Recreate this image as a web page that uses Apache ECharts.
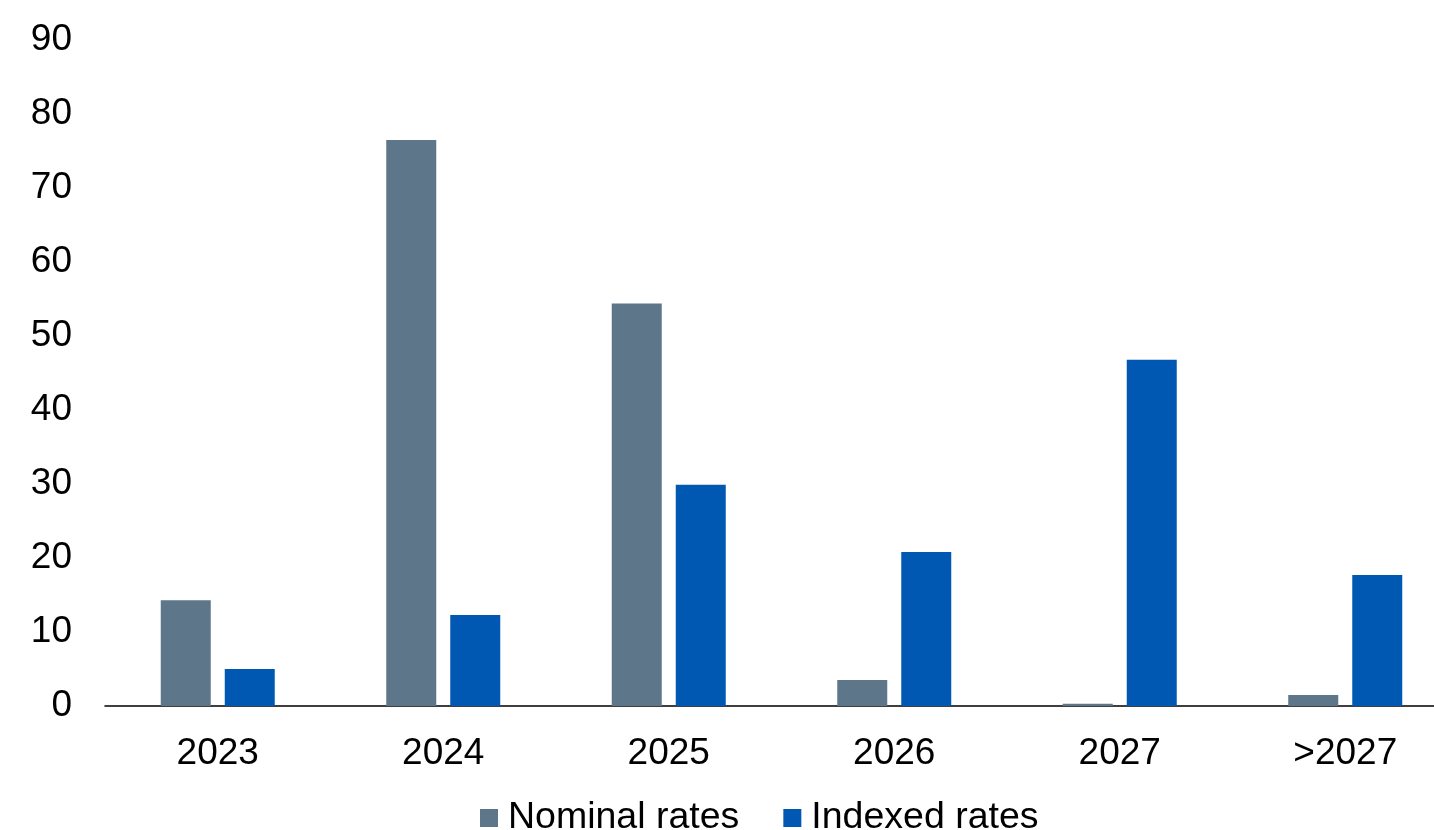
<!DOCTYPE html>
<html>
<head>
<meta charset="utf-8">
<script src="https://cdn.jsdelivr.net/npm/echarts@6/dist/echarts.min.js"></script>
<style>
  html, body { margin: 0; padding: 0; background: #ffffff; }
  #chart { width: 1434px; height: 830px; }
</style>
</head>
<body>
<div id="chart"></div>
<script>
// Maturity buckets and amounts per rate type
const categories = ['2023', '2024', '2025', '2026', '2027', '>2027'];
const nominalRates = [14.3, 76.5, 54.4, 3.5, 0.3, 1.5];
const indexedRates = [5.0, 12.3, 29.9, 20.8, 46.8, 17.7];
const yTicks = { min: 0, max: 90, interval: 10 };

const FONT = 'Liberation Sans, Arial, sans-serif';
const chart = echarts.init(document.getElementById('chart'), null, { renderer: 'canvas' });

chart.setOption({
  animation: false,
  backgroundColor: '#ffffff',
  // the category band runs a little past the right edge of the canvas
  grid: {
    left: 105, width: 1353, top: 40, height: 666,
    containLabel: false, outerBoundsMode: 'none'
  },
  legend: {
    top: 794,
    left: 475,
    itemWidth: 18,
    itemHeight: 18,
    itemGap: 44,
    icon: 'rect',
    textStyle: { fontFamily: FONT, fontSize: 37.5, color: '#000', padding: [0, 0, 0, 5] },
    data: ['Nominal rates', 'Indexed rates']
  },
  xAxis: {
    type: 'category',
    data: categories,
    axisLine: { show: true, lineStyle: { color: '#000', width: 1.5 } },
    axisTick: { show: false },
    axisLabel: { fontFamily: FONT, fontSize: 37, color: '#000', margin: 29 }
  },
  yAxis: {
    type: 'value',
    min: yTicks.min,
    max: yTicks.max,
    interval: yTicks.interval,
    axisLine: { show: false },
    axisTick: { show: false },
    splitLine: { show: false },
    axisLabel: { fontFamily: FONT, fontSize: 37, color: '#000', margin: 33 }
  },
  series: [
    {
      name: 'Nominal rates',
      type: 'bar',
      data: nominalRates,
      barWidth: 50,
      barGap: '28%',
      itemStyle: { color: '#5e7689' }
    },
    {
      name: 'Indexed rates',
      type: 'bar',
      data: indexedRates,
      barWidth: 50,
      barGap: '28%',
      itemStyle: { color: '#0058b2' }
    }
  ]
});
</script>
</body>
</html>
